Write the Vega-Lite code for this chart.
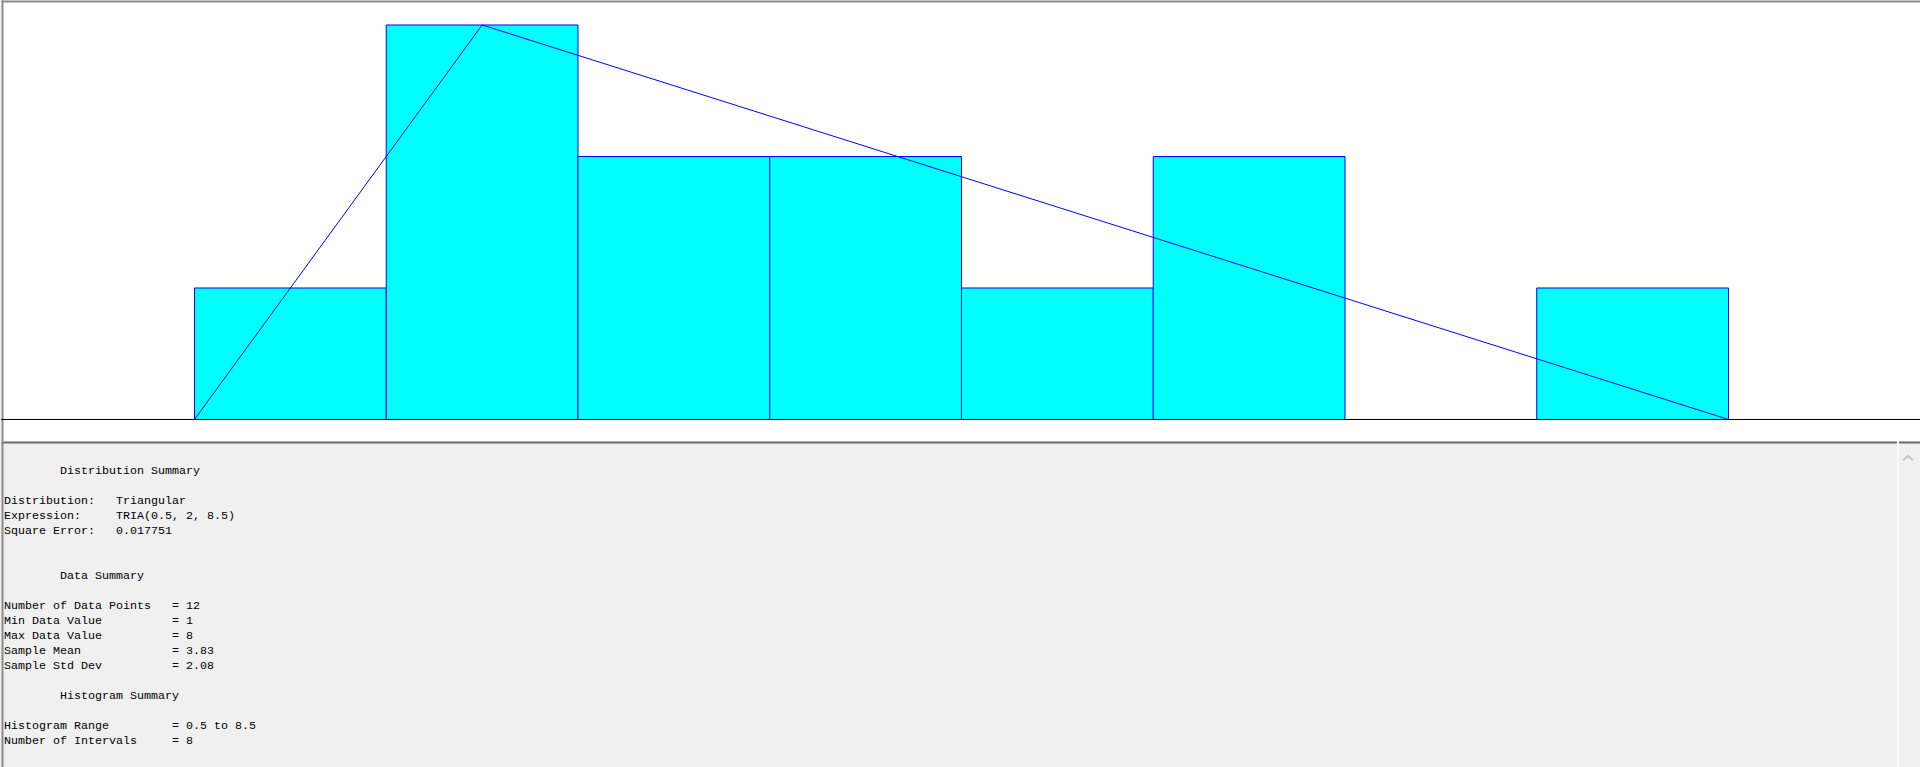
{
  "$schema": "https://vega.github.io/schema/vega-lite/v6.json",
  "padding": 0,
  "spacing": 0,
  "bounds": "flush",
  "background": "#f0f0f0",
  "config": {"view": {"stroke": null}, "concat": {"spacing": 0}},
  "datasets": {
    "bins": [
      {"bin_start": 0.5, "bin_end": 1.5, "count": 1},
      {"bin_start": 1.5, "bin_end": 2.5, "count": 3},
      {"bin_start": 2.5, "bin_end": 3.5, "count": 2},
      {"bin_start": 3.5, "bin_end": 4.5, "count": 2},
      {"bin_start": 4.5, "bin_end": 5.5, "count": 1},
      {"bin_start": 5.5, "bin_end": 6.5, "count": 2},
      {"bin_start": 6.5, "bin_end": 7.5, "count": 0},
      {"bin_start": 7.5, "bin_end": 8.5, "count": 1}
    ],
    "fit": [
      {"x": 0.5, "expected": 0},
      {"x": 2, "expected": 3},
      {"x": 8.5, "expected": 0}
    ],
    "summary": [
      {"line": 0, "col": 8, "text": "Distribution Summary"},
      {"line": 2, "col": 0, "text": "Distribution:"},
      {"line": 2, "col": 16, "text": "Triangular"},
      {"line": 3, "col": 0, "text": "Expression:"},
      {"line": 3, "col": 16, "text": "TRIA(0.5, 2, 8.5)"},
      {"line": 4, "col": 0, "text": "Square Error:"},
      {"line": 4, "col": 16, "text": "0.017751"},
      {"line": 7, "col": 8, "text": "Data Summary"},
      {"line": 9, "col": 0, "text": "Number of Data Points"},
      {"line": 9, "col": 24, "text": "= 12"},
      {"line": 10, "col": 0, "text": "Min Data Value"},
      {"line": 10, "col": 24, "text": "= 1"},
      {"line": 11, "col": 0, "text": "Max Data Value"},
      {"line": 11, "col": 24, "text": "= 8"},
      {"line": 12, "col": 0, "text": "Sample Mean"},
      {"line": 12, "col": 24, "text": "= 3.83"},
      {"line": 13, "col": 0, "text": "Sample Std Dev"},
      {"line": 13, "col": 24, "text": "= 2.08"},
      {"line": 15, "col": 8, "text": "Histogram Summary"},
      {"line": 17, "col": 0, "text": "Histogram Range"},
      {"line": 17, "col": 24, "text": "= 0.5 to 8.5"},
      {"line": 18, "col": 0, "text": "Number of Intervals"},
      {"line": 18, "col": 24, "text": "= 8"}
    ]
  },
  "vconcat": [
    {
      "width": 1920,
      "height": 441,
      "view": {"fill": "#ffffff", "stroke": null},
      "layer": [
        {
          "data": {"name": "bins"},
          "mark": {"type": "rect", "fill": "#00ffff", "stroke": "#0000ff", "strokeWidth": 1},
          "encoding": {
            "x": {"field": "bin_start", "type": "quantitative",
                  "scale": {"domain": [-0.5091, 9.5039], "nice": false, "zero": false},
                  "axis": {"orient": "top", "title": null, "labels": false, "ticks": false, "grid": false,
                           "domainColor": "#8a8a8a", "domainWidth": 2, "offset": -1}},
            "x2": {"field": "bin_end"},
            "y": {"field": "count", "type": "quantitative",
                  "scale": {"domain": [-0.1635, 3.19], "nice": false, "zero": false},
                  "axis": {"orient": "left", "title": null, "labels": false, "ticks": false, "grid": false,
                           "domainColor": "#8a8a8a", "domainWidth": 2, "offset": -1}},
            "y2": {"datum": 0}
          }
        },
        {
          "data": {"values": [{}]},
          "mark": {"type": "rule", "color": "#000000", "strokeWidth": 1},
          "encoding": {"y": {"datum": 0}}
        },
        {
          "data": {"name": "fit"},
          "mark": {"type": "line", "color": "#0000ff", "strokeWidth": 1},
          "encoding": {
            "x": {"field": "x", "type": "quantitative"},
            "y": {"field": "expected", "type": "quantitative"}
          }
        }
      ]
    },
    {
      "width": 1920,
      "height": 326,
      "view": {"fill": "#f0f0f0", "stroke": null},
      "layer": [
        {
          "data": {"name": "summary"},
          "mark": {"type": "text", "font": "Liberation Mono", "fontSize": 11.67, "align": "left", "baseline": "middle", "color": "#000000"},
          "encoding": {
            "x": {"field": "col", "type": "quantitative",
                  "scale": {"domain": [-0.4286, 273.857], "nice": false, "zero": false},
                  "axis": {"orient": "top", "title": null, "labels": false, "ticks": false, "grid": false,
                           "domainColor": "#6e6e6e", "domainWidth": 2, "offset": -1}},
            "y": {"field": "line", "type": "quantitative",
                  "scale": {"domain": [-1.953, 19.78], "reverse": true, "nice": false, "zero": false},
                  "axis": {"orient": "left", "title": null, "labels": false, "ticks": false, "grid": false,
                           "domainColor": "#8a8a8a", "domainWidth": 2, "offset": -1}},
            "text": {"field": "text"}
          }
        },
        {
          "data": {"values": [{}]},
          "mark": {"type": "rule", "color": "#fbfbfb", "strokeWidth": 2},
          "encoding": {"x": {"datum": 270.57}}
        },
        {
          "data": {"values": [{}]},
          "mark": {"type": "point", "shape": "M-1,0.45L0,-0.45L1,0.45", "filled": false, "stroke": "#c4c4c4", "strokeWidth": 2, "size": 100, "opacity": 1},
          "encoding": {"x": {"datum": 272}, "y": {"datum": -0.82}}
        }
      ]
    }
  ]
}
